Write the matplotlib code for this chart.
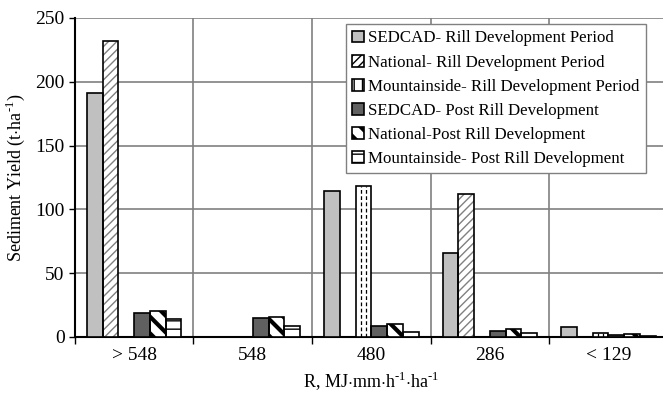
import numpy as np
import matplotlib
matplotlib.use('Agg')
import matplotlib.pyplot as plt

plt.rcParams['font.family'] = ['Liberation Serif', 'DejaVu Serif']
plt.rcParams['mathtext.fontset'] = 'custom'
plt.rcParams['mathtext.rm'] = 'Liberation Serif'
plt.rcParams['hatch.linewidth'] = 1.0

categories = ['> 548', '548', '480', '286', '< 129']
series_names = [
    'SEDCAD- Rill Development Period',
    'National- Rill Development Period',
    'Mountainside- Rill Development Period',
    'SEDCAD- Post Rill Development',
    'National-Post Rill Development',
    'Mountainside- Post Rill Development',
]
sedcad_rill = [191, 0, 114, 66, 8]
national_rill = [232, 0, 0, 112, 0]
mountain_rill = [0, 0, 118, 0, 3]
sedcad_post = [19, 15, 9, 5, 1.5]
national_post = [20, 16, 10, 6, 2]
mountain_post = [14, 9, 4, 3, 1]

series = [sedcad_rill, national_rill, mountain_rill,
          sedcad_post, national_post, mountain_post]

# fill, hatch, hatch colour for each series
styles = [
    ('#c0c0c0', '', 'black'),
    ('white', '////', '#808080'),
    ('white', '', 'black'),
    ('#606060', '', 'black'),
    ('white', '\\\\', 'black'),
    ('white', '--', 'black'),
]

fig = plt.figure(figsize=(6.63, 3.93), dpi=100)
ax = fig.add_axes([0.113, 0.1425, 0.894, 0.812])

x = np.arange(len(categories))
w = 0.133
offsets = (np.arange(6) - 2.5) * w

handles = []
for i, (vals, (fc, hatch, hc)) in enumerate(zip(series, styles)):
    bars = ax.bar(x + offsets[i], vals, w, facecolor=fc, edgecolor=hc,
                  hatch=hatch, linewidth=0, zorder=3)
    # black outline drawn separately so hatch colour can differ
    ax.bar(x + offsets[i], vals, w, facecolor='none', edgecolor='black',
           linewidth=1.2, zorder=4)
    if i == 4:
        for b in bars:
            b.set_hatch_linewidth(3.0)
    if i == 2:
        # dashed vertical strokes inside the mountainside bars
        for b, v in zip(bars, vals):
            if v > 0:
                x0 = b.get_x()
                for fx in (0.33, 0.67):
                    ax.vlines(x0 + fx * w, 0, v, colors='black',
                              linestyles=(0, (3, 2)), linewidth=0.9, zorder=3.5)
    handles.append(bars)

ax.set_xlim(-0.5, len(categories) - 0.5)
ax.set_ylim(0, 250)
ax.set_yticks(np.arange(0, 251, 50))
ax.set_xticks(x)
ax.set_xticklabels(categories)
ax.set_xticks(np.arange(len(categories) + 1) - 0.5, minor=True)
ax.tick_params(axis='x', which='major', length=0, labelsize=14, pad=7)
ax.tick_params(axis='x', which='minor', length=5, width=1, direction='out')
ax.tick_params(axis='y', length=4, width=1, labelsize=14, direction='out')

ax.grid(axis='y', color='#808080', linewidth=1.2, zorder=0)
ax.grid(axis='x', which='minor', color='#808080', linewidth=1.2, zorder=0)
ax.set_axisbelow(True)
for s in ['top', 'right']:
    ax.spines[s].set_visible(False)
ax.spines['left'].set_linewidth(1.5)
ax.spines['bottom'].set_linewidth(1.5)

ax.set_ylabel(r'Sediment Yield (t$\cdot$ha$^{\text{-}1}$)', fontsize=13, labelpad=6)
ax.set_xlabel(r'R, MJ$\cdot$mm$\cdot$h$^{\text{-}1}$$\cdot$ha$^{\text{-}1}$', fontsize=13, labelpad=4)

leg = ax.legend(handles, series_names, loc='upper right', bbox_to_anchor=(0.977, 1.006),
                fontsize=12.2, handlelength=0.7, handleheight=0.7, handletextpad=0.25,
                labelspacing=0.48, borderpad=0.35, fancybox=False, framealpha=1,
                edgecolor='#808080')
leg.get_frame().set_linewidth(1.0)
for i, h in enumerate(leg.legend_handles):
    h.set_edgecolor('black')
    h.set_linewidth(1.2)
    if i == 4:
        h.set_hatch_linewidth(2.5)
    if i == 2:
        h.set_hatch('||')

fig.savefig('out.png', dpi=100)
